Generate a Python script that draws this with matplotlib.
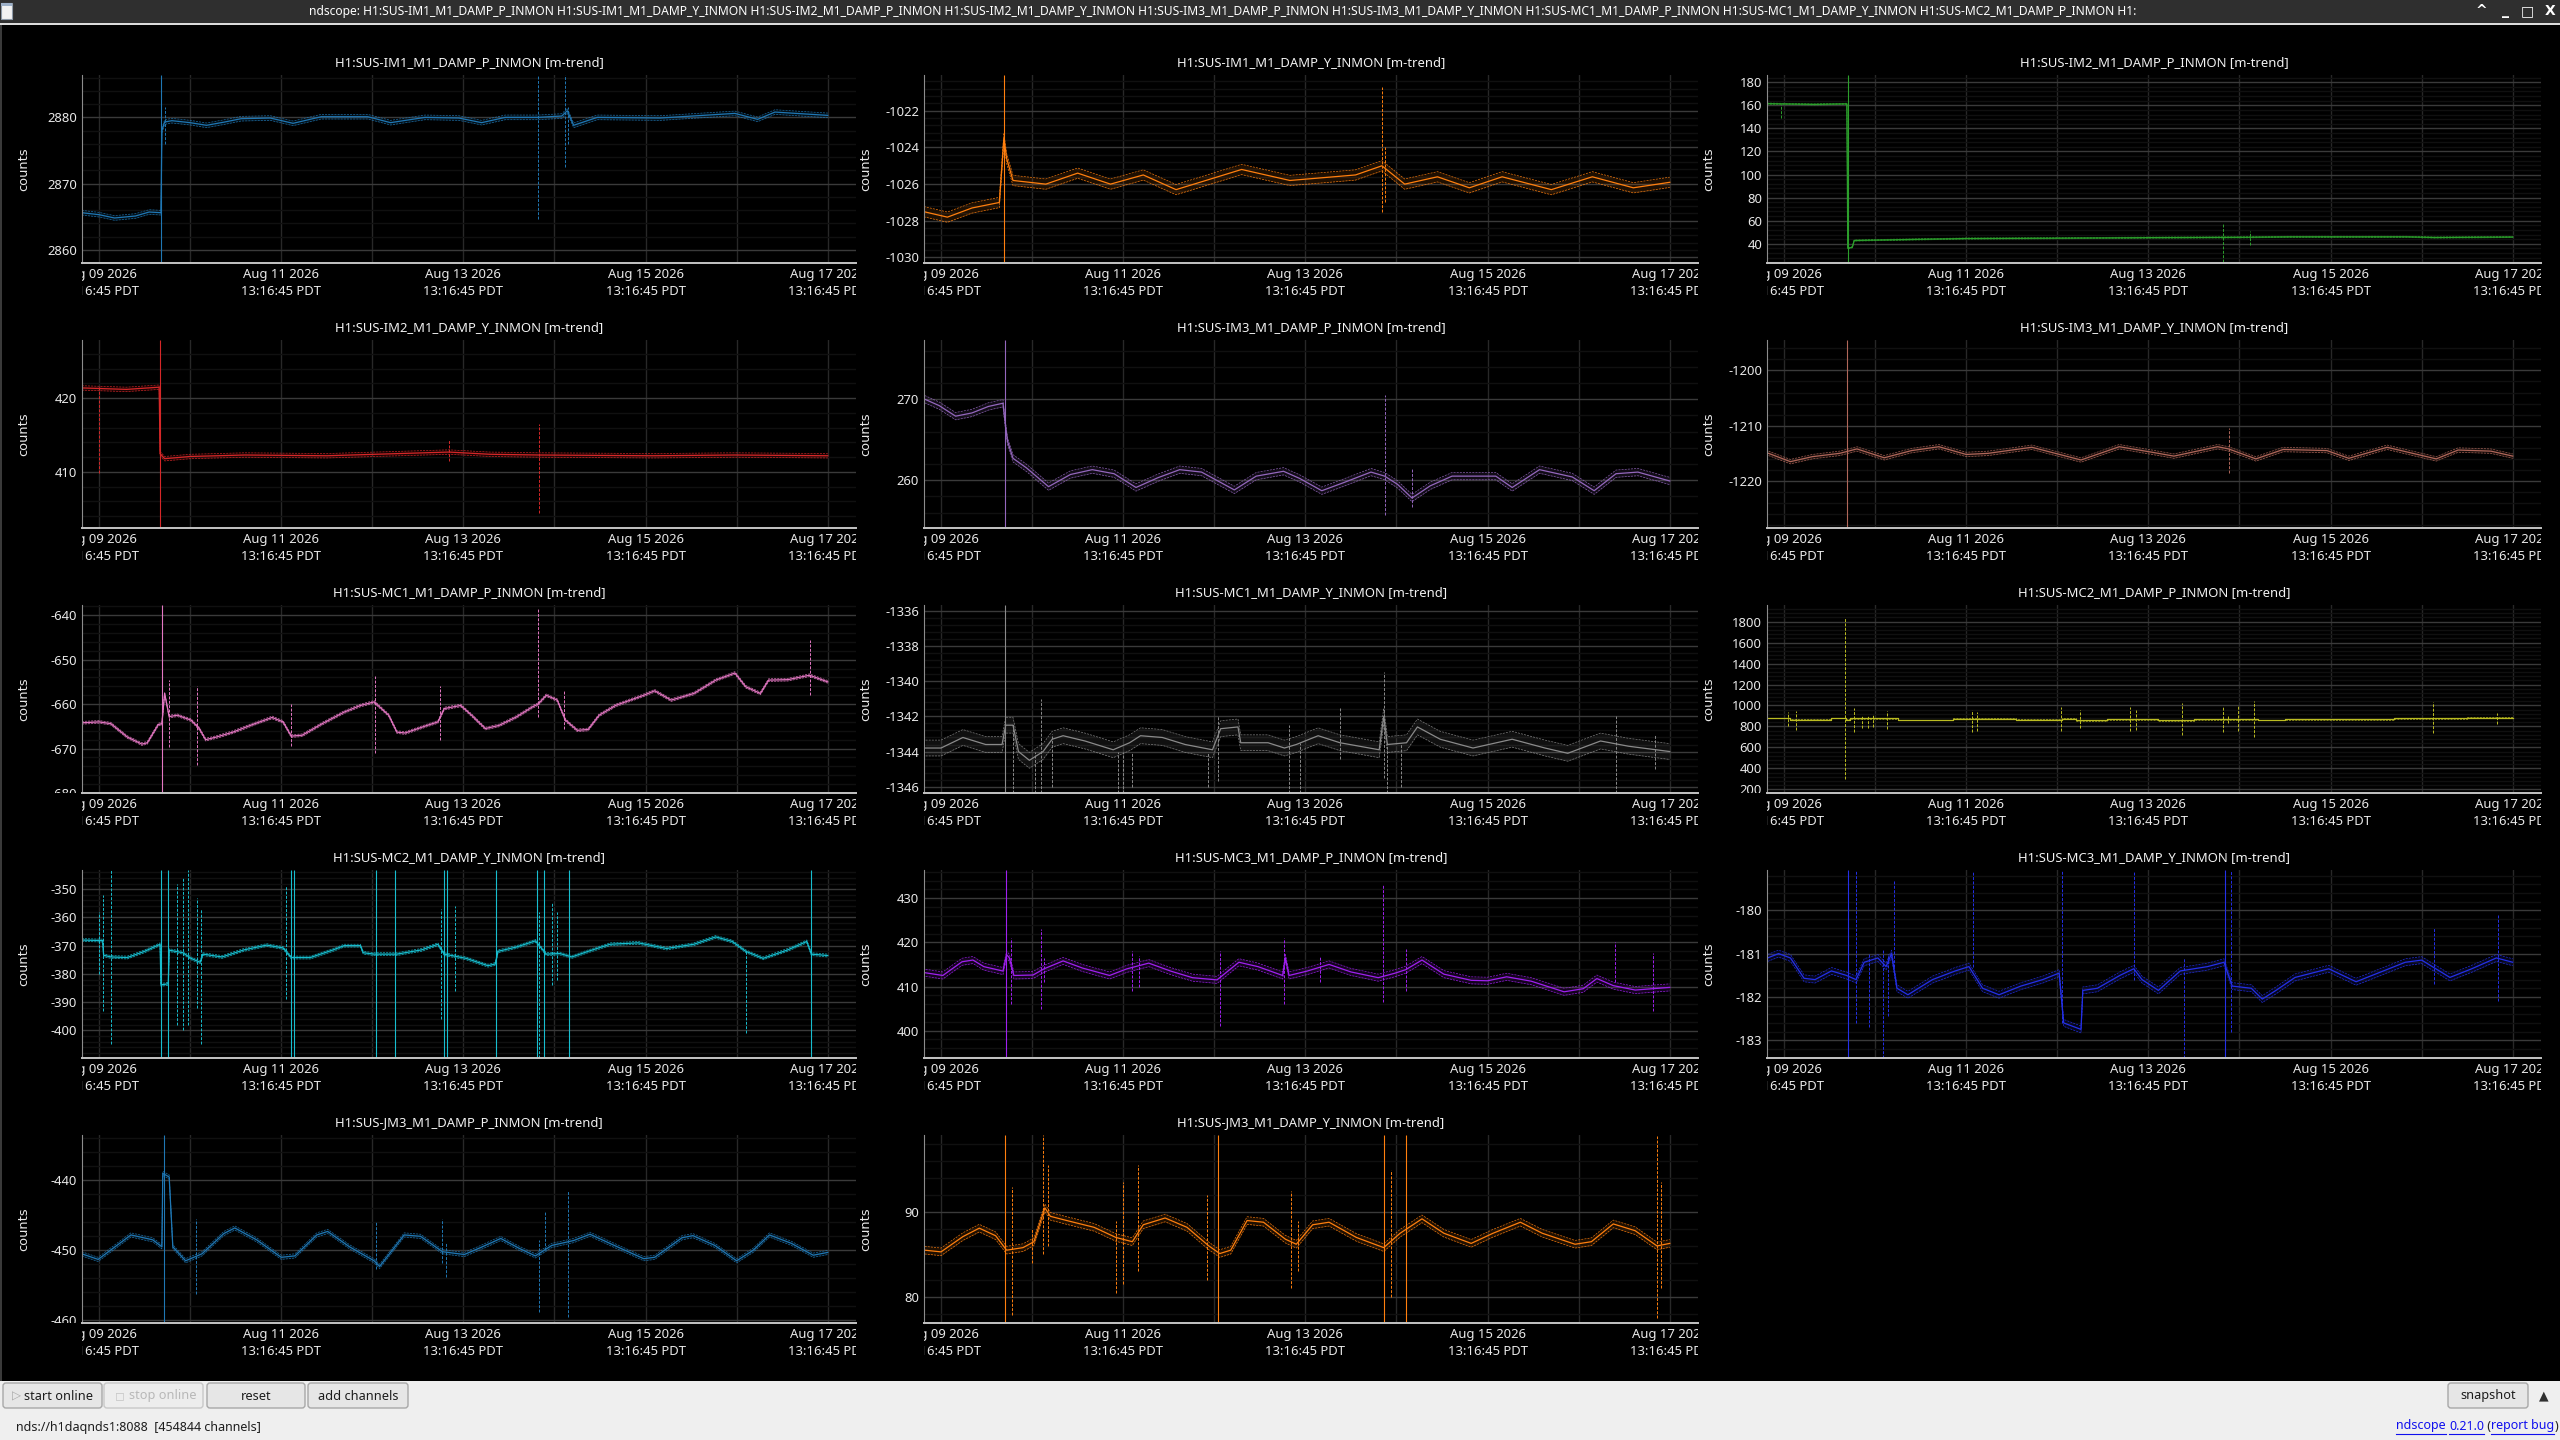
import matplotlib
matplotlib.use("Agg")
import matplotlib.pyplot as plt
from matplotlib import font_manager
from matplotlib.patches import Rectangle, FancyBboxPatch
from matplotlib.ticker import FixedLocator, MultipleLocator
from matplotlib.transforms import Bbox, TransformedBbox

# %% fonts
available = {f.name for f in font_manager.fontManager.ttflist}
UI_FONT = "Noto Sans" if "Noto Sans" in available else "DejaVu Sans"
NARROW = "Liberation Sans Narrow" if "Liberation Sans Narrow" in available else UI_FONT
plt.rcParams["font.family"] = [UI_FONT, "DejaVu Sans"]
plt.rcParams["axes.unicode_minus"] = False

# %% time axis (days since Aug 09 2026 13:16:45 PDT)
XLIM = (-0.187, 8.31)
XTICKS = [0, 2, 4, 6, 8]
XTICK_LABELS = ["Aug 09 2026\n13:16:45 PDT", "Aug 11 2026\n13:16:45 PDT",
                "Aug 13 2026\n13:16:45 PDT", "Aug 15 2026\n13:16:45 PDT",
                "Aug 17 2026\n13:16:45 PDT"]

# %% channel data: mean trace breakpoints and glitches (day, max, min); None = off the axis
im1_p_t = [-0.19, 0.0, 0.17, 0.4, 0.55, 0.68, 0.69, 0.72, 0.8, 1.0, 1.18, 1.38, 1.56, 1.88, 2.13, 2.44,
           2.95, 3.2, 3.58, 3.95, 4.2, 4.46, 4.82, 5.08, 5.14, 5.21, 5.47, 6.16, 6.98, 7.23, 7.42, 8.0]
im1_p_v = [2865.6, 2865.3, 2864.8, 2865.1, 2865.7, 2865.6, 2878.0, 2879.3, 2879.5, 2879.2, 2878.8,
           2879.3, 2879.8, 2879.9, 2879.1, 2880.1, 2880.1, 2879.2, 2880.0, 2879.9, 2879.2, 2880.0,
           2880.0, 2880.2, 2881.0, 2878.8, 2880.0, 2879.9, 2880.6, 2879.7, 2880.8, 2880.3]
im1_p_spk = [(0.685, None, None), (0.72, 2881.5, 2876.0), (4.82, None, 2864.7),
             (5.12, None, 2872.5), (5.15, 2881.5, 2876.0)]

im1_y_t = [-0.19, 0.07, 0.34, 0.64, 0.69, 0.72, 0.79, 1.15, 1.5, 1.86, 2.22, 2.58, 3.3, 3.83, 4.55,
           4.84, 5.09, 5.45, 5.8, 6.16, 6.7, 7.15, 7.6, 8.0]
im1_y_v = [-1027.5, -1027.8, -1027.3, -1027.0, -1023.5, -1024.6, -1025.8, -1026.0, -1025.4, -1026.0,
           -1025.5, -1026.3, -1025.2, -1025.8, -1025.5, -1025.0, -1026.0, -1025.6, -1026.2, -1025.6,
           -1026.3, -1025.6, -1026.2, -1025.9]
im1_y_spk = [(0.69, None, None), (4.84, -1020.7, -1027.5), (4.87, -1024.0, -1027.0)]

im2_p_t = [-0.19, 0.33, 0.69, 0.70, 0.75, 0.77, 1.1, 1.99, 3.01, 4.03, 4.82, 5.1, 5.55, 6.83, 7.14, 8.0]
im2_p_v = [161.5, 160.8, 161.3, 36.0, 37.0, 42.8, 43.3, 44.5, 44.8, 45.3, 45.5, 45.6, 46.0, 46.0, 45.4, 45.8]
im2_p_spk = [(-0.03, 161.0, 148.7), (0.70, None, None), (4.82, 58.0, 24.4), (5.11, 51.0, 39.0)]

im2_y_t = [-0.19, 0.3, 0.66, 0.67, 0.72, 1.0, 1.6, 2.5, 3.84, 4.29, 4.83, 6.08, 6.98, 8.0]
im2_y_v = [421.4, 421.2, 421.5, 412.5, 411.8, 412.1, 412.3, 412.2, 412.7, 412.4, 412.3, 412.2, 412.3, 412.2]
im2_y_spk = [(0.0, 421.5, 409.8), (0.67, None, None), (3.84, 414.4, 411.5), (4.83, 416.5, 404.5)]

im3_p_t = [-0.18, -0.02, 0.16, 0.34, 0.52, 0.68, 0.71, 0.73, 0.79, 0.94, 1.18, 1.42, 1.66, 1.9, 2.14,
           2.38, 2.62, 2.86, 3.22, 3.46, 3.76, 3.94, 4.18, 4.42, 4.72, 4.87, 5.01, 5.17, 5.37, 5.61,
           6.09, 6.27, 6.57, 6.93, 7.17, 7.41, 7.65, 8.0]
im3_p_v = [270.0, 269.2, 267.9, 268.3, 269.1, 269.5, 266.5, 264.8, 262.7, 261.5, 259.2, 260.7, 261.3,
           260.8, 259.1, 260.3, 261.3, 261.0, 258.8, 260.5, 261.1, 260.2, 258.7, 259.7, 261.0, 260.5,
           259.5, 257.8, 259.3, 260.5, 260.5, 259.1, 261.3, 260.4, 258.7, 260.8, 261.0, 259.9]
im3_p_spk = [(0.70, None, None), (4.87, 270.5, 255.7), (5.17, 261.5, 256.7)]

im3_y_t = [-0.17, 0.07, 0.31, 0.61, 0.8, 1.1, 1.4, 1.7, 2.0, 2.24, 2.72, 3.26, 3.68, 4.04, 4.28, 4.76,
           4.88, 5.18, 5.48, 5.96, 6.2, 6.62, 7.16, 7.4, 7.76, 8.0]
im3_y_v = [-1215.0, -1216.5, -1215.6, -1215.0, -1214.2, -1215.8, -1214.5, -1213.8, -1215.2, -1215.0,
           -1213.9, -1216.2, -1213.8, -1214.8, -1215.5, -1213.8, -1214.2, -1216.0, -1214.3, -1214.5,
           -1215.9, -1213.9, -1216.0, -1214.4, -1214.6, -1215.5]
im3_y_spk = [(0.69, None, None), (4.88, -1210.5, -1218.5)]

mc1_p_t = [-0.19, 0.0, 0.13, 0.31, 0.47, 0.53, 0.65, 0.69, 0.72, 0.77, 0.86, 1.01, 1.1, 1.17, 1.29,
           1.47, 1.71, 1.9, 2.02, 2.11, 2.23, 2.45, 2.69, 2.87, 3.02, 3.18, 3.27, 3.36, 3.6, 3.72, 3.79,
           3.97, 4.09, 4.24, 4.39, 4.58, 4.76, 4.82, 4.91, 5.03, 5.12, 5.25, 5.37, 5.49, 5.67, 5.98,
           6.1, 6.28, 6.53, 6.77, 6.98, 7.1, 7.26, 7.35, 7.56, 7.8, 8.0]
mc1_p_v = [-664.2, -664.0, -664.4, -667.4, -669.0, -668.7, -664.6, -664.4, -657.6, -662.8, -662.5,
           -663.6, -665.5, -668.0, -667.4, -666.3, -664.4, -663.0, -664.0, -667.2, -667.0, -664.4,
           -661.8, -660.3, -659.5, -662.5, -666.3, -666.5, -664.8, -664.0, -661.0, -660.3, -662.5,
           -665.5, -664.8, -662.9, -660.6, -660.0, -658.0, -659.1, -663.6, -665.9, -665.7, -662.5,
           -660.3, -658.0, -657.0, -659.1, -657.6, -654.6, -653.0, -656.1, -657.6, -654.6, -654.5,
           -653.5, -655.0]
mc1_p_spk = [(0.69, None, None), (0.77, -654.5, -669.6), (1.07, -656.0, -673.8), (2.11, -660.0, -669.5),
             (3.03, -653.7, -671.1), (3.74, -656.0, -668.0), (4.82, -638.5, -663.0),
             (5.1, -657.0, -665.5), (7.8, -645.6, -658.0)]

mc1_y_t = [-0.17, 0.0, 0.24, 0.49, 0.67, 0.71, 0.79, 0.85, 0.97, 1.12, 1.22, 1.34, 1.58, 1.89, 2.07,
           2.19, 2.43, 2.68, 2.98, 3.07, 3.26, 3.29, 3.59, 3.77, 3.9, 4.14, 4.38, 4.81, 4.86, 4.9,
           5.11, 5.23, 5.48, 5.84, 6.27, 6.63, 6.88, 7.24, 7.55, 8.0]
mc1_y_v = [-1343.8, -1343.8, -1343.2, -1343.6, -1343.6, -1342.5, -1342.5, -1344.0, -1344.5, -1344.0,
           -1343.3, -1343.1, -1343.4, -1343.9, -1343.5, -1343.1, -1343.2, -1343.6, -1343.9, -1342.7,
           -1342.6, -1343.5, -1343.5, -1343.8, -1343.6, -1343.1, -1343.5, -1343.9, -1342.0, -1343.6,
           -1343.5, -1342.6, -1343.3, -1343.8, -1343.3, -1343.8, -1344.1, -1343.4, -1343.7, -1344.0]
mc1_y_spk = [(0.70, None, None), (0.79, -1342.4, None), (1.03, -1344.0, None), (1.1, -1341.0, None),
             (1.22, -1343.0, -1346.0), (1.94, -1344.0, None), (2.0, -1344.0, None),
             (2.1, -1344.0, -1346.0), (2.93, -1344.0, -1346.0), (3.04, -1342.0, -1345.7),
             (3.82, -1342.5, None), (3.94, -1343.5, None), (4.38, -1341.5, -1344.4),
             (4.86, -1339.5, -1345.5), (4.9, -1343.5, None), (5.05, -1343.5, -1346.0),
             (7.41, -1342.0, None), (7.84, -1343.0, -1345.0)]

mc2_p_t = [-0.19, 0.07, 0.52, 0.68, 0.72, 1.25, 1.85, 2.55, 3.05, 3.2, 3.55, 4.1, 4.5, 5.2, 5.5, 6.7, 7.5, 8.0]
mc2_p_v = [880, 865, 880, 865, 878, 862, 875, 865, 875, 860, 870, 860, 870, 862, 868, 878, 883, 883]
mc2_p_spk = [(0.04, 940, 800), (0.13, 945, 770), (0.67, 1838, 295), (0.77, 975, 745), (0.86, 910, 790),
             (0.92, 910, 790), (0.98, 905, 795), (1.13, 945, 775), (2.06, 960, 750), (2.12, 940, 760),
             (3.04, 985, 760), (3.25, 955, 785), (3.8, 985, 755), (3.86, 960, 770), (4.37, 1025, 715),
             (4.82, 985, 750), (4.87, 900, 830), (4.98, 1000, 755), (5.16, 1040, 695),
             (7.12, 1030, 740), (7.83, 930, 820)]

mc2_y_t = [-0.19, 0.04, 0.05, 0.13, 0.31, 0.5, 0.67, 0.68, 0.76, 0.77, 0.92, 1.01, 1.11, 1.14, 1.35,
           1.59, 1.84, 2.02, 2.11, 2.32, 2.57, 2.69, 2.87, 2.9, 3.02, 3.27, 3.54, 3.72, 3.79, 4.03,
           4.27, 4.35, 4.38, 4.58, 4.79, 4.91, 5.06, 5.19, 5.37, 5.61, 5.92, 6.23, 6.53, 6.77, 6.95,
           7.1, 7.29, 7.56, 7.77, 7.82, 8.0]
mc2_y_v = [-368.0, -368.2, -373.4, -374.0, -374.2, -372.0, -369.5, -383.9, -383.5, -371.6, -372.5,
           -374.5, -375.9, -373.0, -374.0, -371.5, -369.8, -370.8, -374.2, -374.2, -371.5, -370.0,
           -370.0, -372.5, -373.0, -373.0, -371.5, -369.5, -373.0, -374.5, -377.1, -376.5, -372.0,
           -370.5, -368.3, -373.0, -372.8, -374.0, -372.0, -369.5, -369.0, -371.0, -369.5, -366.9,
           -368.5, -372.0, -374.5, -371.5, -368.5, -373.0, -373.5]
mc2_y_spk = [(0.0, -358.0, -380.0), (0.04, -352.0, -393.0), (0.13, None, -405.0), (0.68, None, None),
             (0.76, None, None), (0.86, -348.0, -398.0), (0.92, -346.0, -400.0), (0.98, None, -398.0),
             (1.07, -353.0, -392.0), (1.12, -357.0, -405.0), (2.05, -349.0, -389.0), (2.11, None, None),
             (2.14, None, None), (3.04, None, None), (3.25, None, None), (3.75, -357.0, -396.0),
             (3.79, None, None), (3.82, None, None), (3.91, -356.0, -386.0), (4.36, None, None),
             (4.81, None, None), (4.83, -358.0, None), (4.88, None, None), (4.97, -355.0, -384.0),
             (5.03, -358.0, -382.0), (5.16, None, None), (7.1, -372.0, -401.0), (7.82, None, None)]

mc3_p_t = [-0.17, 0.02, 0.23, 0.35, 0.47, 0.68, 0.72, 0.75, 0.8, 1.01, 1.13, 1.34, 1.55, 1.85, 2.04,
           2.28, 2.52, 2.76, 3.03, 3.12, 3.27, 3.48, 3.75, 3.78, 3.82, 4.02, 4.26, 4.5, 4.8, 4.98,
           5.1, 5.28, 5.52, 5.82, 6.0, 6.21, 6.48, 6.84, 7.05, 7.2, 7.38, 7.62, 8.0]
mc3_p_v = [413.1, 412.5, 415.6, 416.0, 414.5, 413.5, 417.2, 416.5, 412.5, 412.6, 414.0, 415.8, 414.2,
           412.5, 414.0, 415.3, 413.5, 412.0, 411.5, 413.0, 415.5, 414.5, 412.5, 416.5, 412.5, 413.5,
           415.0, 413.3, 412.0, 413.0, 413.8, 416.0, 412.8, 411.4, 411.3, 412.2, 411.2, 408.8, 409.5,
           411.8, 410.2, 409.2, 409.8]
mc3_p_spk = [(0.71, None, None), (0.77, 421.0, 406.0), (1.1, 423.0, 405.0), (1.13, 416.5, 411.0),
             (2.1, 418.0, 409.0), (2.17, 417.0, 410.0), (3.06, 418.0, 401.0), (3.77, 421.0, 406.0),
             (4.16, 417.0, 411.0), (4.85, 433.0, 406.5), (5.1, 418.5, 409.0), (7.4, 420.0, 411.0),
             (7.82, 417.5, 404.5)]

mc3_y_t = [-0.18, -0.06, 0.07, 0.22, 0.34, 0.52, 0.68, 0.79, 0.88, 1.03, 1.12, 1.18, 1.24, 1.36, 1.63,
           1.88, 2.03, 2.18, 2.36, 2.6, 2.84, 3.02, 3.07, 3.26, 3.28, 3.44, 3.69, 3.84, 3.93, 4.11,
           4.35, 4.65, 4.83, 4.92, 5.13, 5.25, 5.4, 5.61, 5.98, 6.28, 6.52, 6.82, 7.0, 7.31, 7.55,
           7.82, 8.0]
mc3_y_v = [-181.1, -181.0, -181.1, -181.57, -181.6, -181.4, -181.5, -181.6, -181.2, -181.1, -181.3,
           -181.0, -181.8, -181.95, -181.6, -181.4, -181.3, -181.8, -181.95, -181.75, -181.6, -181.45,
           -182.6, -182.75, -181.85, -181.8, -181.5, -181.35, -181.6, -181.85, -181.4, -181.3, -181.2,
           -181.75, -181.8, -182.05, -181.85, -181.55, -181.35, -181.65, -181.45, -181.2, -181.15,
           -181.55, -181.35, -181.1, -181.2]
mc3_y_spk = [(0.7, None, None), (0.79, None, -182.6), (0.93, -181.0, -182.7), (1.09, -180.9, None),
             (1.14, -181.0, -182.45), (1.21, -179.3, -181.3), (2.07, -179.1, -181.3),
             (3.05, None, -182.6), (3.84, -179.1, -181.6), (4.39, -181.1, None), (4.84, None, None),
             (4.91, -179.1, -182.8), (7.13, -180.4, -181.7), (7.84, -180.1, -182.1)]

jm3_p_t = [-0.19, -0.01, 0.35, 0.59, 0.69, 0.70, 0.77, 0.81, 0.95, 1.13, 1.37, 1.49, 1.73, 2.0, 2.15,
           2.39, 2.51, 2.75, 3.02, 3.08, 3.35, 3.53, 3.77, 4.01, 4.19, 4.41, 4.61, 4.79, 4.97, 5.21,
           5.39, 5.69, 5.98, 6.1, 6.4, 6.52, 6.76, 7.0, 7.18, 7.36, 7.6, 7.84, 8.0]
jm3_p_v = [-450.5, -451.3, -447.8, -448.5, -449.5, -439.0, -439.5, -449.5, -451.5, -450.5, -447.6,
           -446.8, -448.5, -451.0, -450.8, -447.8, -447.3, -449.5, -451.5, -452.3, -447.8, -448.0,
           -450.2, -450.6, -449.6, -448.3, -449.7, -450.8, -449.3, -448.6, -447.7, -449.5, -451.2,
           -451.0, -448.2, -447.9, -449.3, -451.5, -450.0, -447.8, -449.0, -450.7, -450.3]
jm3_p_spk = [(0.71, None, None), (1.06, -445.5, -456.3), (3.04, -446.0, -452.7), (3.77, -445.5, -451.8),
             (3.81, -449.0, -453.8), (4.83, -448.5, -458.8), (4.9, -444.5, -450.0),
             (5.15, -441.5, -459.5)]

jm3_y_t = [-0.18, 0.0, 0.24, 0.42, 0.6, 0.72, 0.9, 1.02, 1.14, 1.2, 1.38, 1.68, 1.92, 2.1, 2.22, 2.46,
           2.7, 2.94, 3.06, 3.18, 3.36, 3.54, 3.78, 3.9, 4.08, 4.26, 4.56, 4.86, 5.04, 5.28, 5.52,
           5.82, 6.06, 6.36, 6.6, 6.96, 7.14, 7.38, 7.62, 7.86, 8.0]
jm3_y_v = [85.5, 85.3, 87.1, 88.1, 87.2, 85.5, 85.8, 86.5, 90.5, 89.5, 89.0, 88.2, 87.0, 86.5, 88.5,
           89.3, 88.2, 86.0, 85.1, 85.5, 89.0, 88.8, 86.8, 86.2, 88.5, 88.8, 87.0, 85.8, 87.5, 89.2,
           87.5, 86.3, 87.5, 88.8, 87.5, 86.2, 86.5, 88.6, 87.8, 86.0, 86.3]
jm3_y_spk = [(0.7, None, None), (0.78, 93.0, 77.8), (1.0, 88.0, 84.0), (1.12, None, 85.0),
             (1.17, 95.5, 86.0), (1.92, 89.0, 80.5), (2.0, 93.5, 81.5), (2.16, 95.5, 83.0),
             (2.92, 92.0, 82.0), (3.04, None, None), (3.84, 92.5, 81.0), (3.92, 89.0, 83.0),
             (4.86, None, None), (4.94, 95.0, 80.0), (5.1, None, None), (7.86, 99.0, 77.5),
             (7.9, 93.5, 81.0)]

# name, t, v, glitches, color, ylim, major tick step, min/max half-width, stepped
channels = [
    ("H1:SUS-IM1_M1_DAMP_P_INMON", im1_p_t, im1_p_v, im1_p_spk, "#1f77b4", (2858.0, 2886.4), 10, 0.35, False),
    ("H1:SUS-IM1_M1_DAMP_Y_INMON", im1_y_t, im1_y_v, im1_y_spk, "#ff7f0e", (-1030.3, -1020.05), 2, 0.28, False),
    ("H1:SUS-IM2_M1_DAMP_P_INMON", im2_p_t, im2_p_v, im2_p_spk, "#2ca02c", (23.3, 186.3), 20, 0.5, False),
    ("H1:SUS-IM2_M1_DAMP_Y_INMON", im2_y_t, im2_y_v, im2_y_spk, "#d62728", (402.4, 427.9), 10, 0.3, False),
    ("H1:SUS-IM3_M1_DAMP_P_INMON", im3_p_t, im3_p_v, im3_p_spk, "#9467bd", (254.1, 277.3), 10, 0.45, False),
    ("H1:SUS-IM3_M1_DAMP_Y_INMON", im3_y_t, im3_y_v, im3_y_spk, "#b0675a", (-1228.5, -1194.5), 10, 0.4, False),
    ("H1:SUS-MC1_M1_DAMP_P_INMON", mc1_p_t, mc1_p_v, mc1_p_spk, "#e377c2", (-680.0, -637.7), 10, 0.3, False),
    ("H1:SUS-MC1_M1_DAMP_Y_INMON", mc1_y_t, mc1_y_v, mc1_y_spk, "#8a8a8a", (-1346.36, -1335.66), 2, 0.45, False),
    ("H1:SUS-MC2_M1_DAMP_P_INMON", mc2_p_t, mc2_p_v, mc2_p_spk, "#bcbd22", (165.0, 1959.0), 200, 4.0, True),
    ("H1:SUS-MC2_M1_DAMP_Y_INMON", mc2_y_t, mc2_y_v, mc2_y_spk, "#17becf", (-409.8, -343.2), 10, 0.5, False),
    ("H1:SUS-MC3_M1_DAMP_P_INMON", mc3_p_t, mc3_p_v, mc3_p_spk, "#a020f0", (393.8, 436.4), 10, 0.8, False),
    ("H1:SUS-MC3_M1_DAMP_Y_INMON", mc3_y_t, mc3_y_v, mc3_y_spk, "#2430e8", (-183.41, -179.07), 1, 0.08, False),
    ("H1:SUS-JM3_M1_DAMP_P_INMON", jm3_p_t, jm3_p_v, jm3_p_spk, "#1f77b4", (-460.4, -433.5), 10, 0.3, False),
    ("H1:SUS-JM3_M1_DAMP_Y_INMON", jm3_y_t, jm3_y_v, jm3_y_spk, "#ff7f0e", (76.9, 99.1), 10, 0.45, False),
]

# %% layout in screen pixels
W, H = 2560, 1440
COL_X = [82, 924, 1767]
COL_W = 774
ROW_Y = [75, 340, 605, 870, 1135]
AX_H = 188
TXT = "#e8e8e8"

fig = plt.figure(figsize=(W / 100, H / 100), dpi=100, facecolor="black")

# window chrome drawn on an overlay in pixel coordinates
ui = fig.add_axes([0, 0, 1, 1])
ui.set_xlim(0, W)
ui.set_ylim(H, 0)
ui.axis("off")
ui.add_patch(Rectangle((0, 0), W, 23, color="#2f2f2f", lw=0))
ui.add_patch(Rectangle((0, 23), W, 2, color="#dcdcdc", lw=0))
ui.add_patch(Rectangle((1, 3), 11, 16, fc="#f2f2f2", ec="#8e9aa8", lw=0.8))
ui.add_patch(Rectangle((1, 3), 11, 3, fc="#9db0c8", lw=0))
ui.add_patch(Rectangle((0, 25), 2, 1356, color="#3a3a3a", lw=0))
ui.add_patch(Rectangle((0, 1381), W, 59, color="#efefef", lw=0))

title_str = "ndscope: " + " ".join(c[0] for c in channels[:9]) + " H1:"
tb = ui.text(1223, 11.5, title_str, ha="center", va="center", color="white",
             fontsize=9, fontweight="bold", family=[NARROW, "DejaVu Sans"])
for x, s in [(2481, "^"), (2505, "_"), (2527, "\u25a1"), (2550, "X")]:
    ui.text(x, 11, s, ha="center", va="center", color="white", fontsize=10,
            fontweight="bold", family=["DejaVu Sans"])


def button(x0, x1, label, cx, enabled=True, icon=None, icon_x=None):
    ui.add_patch(FancyBboxPatch((x0, 1383), x1 - x0, 25, boxstyle="round,pad=0,rounding_size=3",
                                fc="#e6e6e6" if enabled else "#ededed",
                                ec="#a8a8a8" if enabled else "#c8c8c8", lw=1))
    ui.text(cx, 1396, label, ha="center", va="center", fontsize=9.2,
            color="#1c1c1c" if enabled else "#b8b8b8")
    if icon:
        ui.text(icon_x, 1396, icon, ha="center", va="center", fontsize=8.5,
                color="#a8a8a8" if enabled else "#c4c4c4", family=["DejaVu Sans"])


button(3, 102, "start online", 59, True, "\u25b7", 16)
button(104, 203, "stop online", 163, False, "\u25fb", 120)
button(207, 305, "reset", 256)
button(308, 408, "add channels", 358)
button(2448, 2528, "snapshot", 2488)
ui.text(2544, 1396, "\u25b2", ha="center", va="center", fontsize=9, color="#303030",
        family=["DejaVu Sans"])
ui.text(16, 1427, "nds://h1daqnds1:8088  [454844 channels]", ha="left", va="center",
        fontsize=9, color="#1e1e1e")

# %% panels
axes = []
for i, (name, t, v, spk, color, ylim, ystep, band, stepped) in enumerate(channels):
    r, c = divmod(i, 3)
    ax = fig.add_axes([COL_X[c] / W, (H - ROW_Y[r] - AX_H) / H, COL_W / W, AX_H / H])
    ax.set_facecolor("black")
    ax.set_xlim(*XLIM)
    ax.set_ylim(*ylim)

    ax.xaxis.set_major_locator(FixedLocator(XTICKS))
    ax.xaxis.set_minor_locator(MultipleLocator(1))
    ax.yaxis.set_major_locator(MultipleLocator(ystep))
    ax.yaxis.set_minor_locator(MultipleLocator(ystep / 5))
    ax.xaxis.grid(True, which="both", color="#282828", lw=1)
    ax.yaxis.grid(True, which="major", color="#3a3a3a", lw=1)
    ax.yaxis.grid(True, which="minor", color="#101010", lw=1)
    ax.set_axisbelow(True)

    ds = "steps-post" if stepped else "default"
    lo = [x - band for x in v]
    hi = [x + band for x in v]
    ax.fill_between(t, lo, hi, color=color, alpha=0.12, lw=0, step="post" if stepped else None)
    ax.plot(t, lo, color=color, lw=0.5, alpha=0.9, ls=(0, (3, 1.5)), drawstyle=ds)
    ax.plot(t, hi, color=color, lw=0.5, alpha=0.9, ls=(0, (3, 1.5)), drawstyle=ds)
    ax.plot(t, v, color=color, lw=0.9, drawstyle=ds)

    y0, y1 = ax.get_ylim()
    for d, top, bot in spk:
        full = top is None and bot is None
        ax.vlines(d, y0 if bot is None else bot, y1 if top is None else top, color=color,
                  lw=0.8 if full else 0.7, ls="-" if full else (0, (3, 1.5)))

    for side in ("top", "right"):
        ax.spines[side].set_visible(False)
    ax.spines["left"].set_color("#8c8c8c")
    ax.spines["left"].set_linewidth(0.8)
    ax.spines["bottom"].set_color("#c4c4c4")
    ax.spines["bottom"].set_linewidth(1.4)

    ax.tick_params(which="both", length=0, labelsize=9.4, labelcolor=TXT)
    ax.tick_params(axis="x", pad=3.5)
    ax.tick_params(axis="y", pad=3.5)
    ax.set_xticklabels(XTICK_LABELS, linespacing=1.45)
    ax.set_ylabel("counts", color=TXT, fontsize=9.4, family=["DejaVu Sans"])
    ax.yaxis.set_label_coords(-52 / COL_W, 0.5)
    ax.set_title(name + " [m-trend]", color="#f2f2f2", fontsize=9.4, pad=6.5)
    axes.append(ax)

# %% clip tick labels to the plot extent like the scope does, fit the window title
fig.canvas.draw()
renderer = fig.canvas.get_renderer()
for ax in axes:
    xclip = TransformedBbox(Bbox([[0, -3], [1, 4]]), ax.transAxes)
    yclip = TransformedBbox(Bbox([[-3, 0], [4, 1]]), ax.transAxes)
    for lab in ax.get_xticklabels():
        lab.set_clip_box(xclip)
        lab.set_clip_on(True)
    for lab in ax.get_yticklabels():
        lab.set_clip_box(yclip)
        lab.set_clip_on(True)

tw = tb.get_window_extent(renderer).width
tb.set_fontsize(9 * 1836 / tw)

# link line at bottom right, built right to left
pieces = [(")", "#1e1e1e", False), ("report bug", "#1010ee", True), (" (", "#1e1e1e", False),
          ("0.21.0", "#1010ee", True), (" ", "#1e1e1e", False), ("ndscope", "#1010ee", True)]
x_right = 2558
inv = ui.transData.inverted()
for s, col, underline in pieces:
    txt = ui.text(x_right, 1426, s, ha="right", va="center", fontsize=9, color=col)
    bb = txt.get_window_extent(renderer)
    (xl, _), (xr, _) = inv.transform([[bb.x0, bb.y0], [bb.x1, bb.y1]])
    if underline:
        ui.plot([xl, xr], [1434, 1434], color=col, lw=0.8)
    x_right = xl

fig.savefig("out.png", dpi=100, facecolor="black")
